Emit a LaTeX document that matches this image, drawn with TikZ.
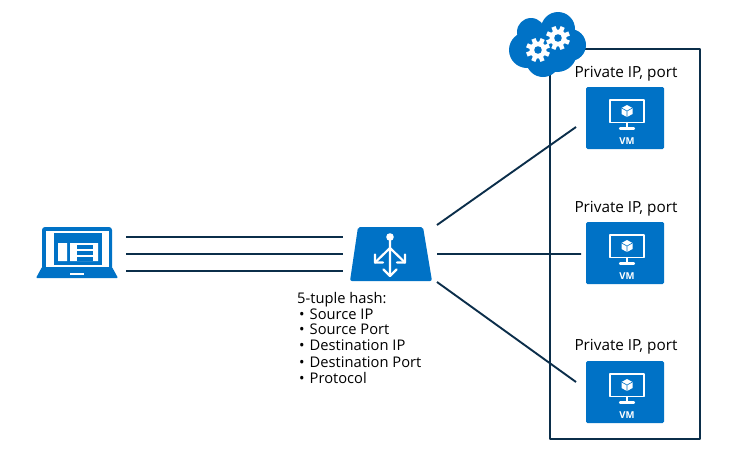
\documentclass[tikz,border=0pt]{standalone}
\usepackage{fontspec}
\setmainfont{Open Sans}
\definecolor{azure}{HTML}{0072C6}
\definecolor{navy}{HTML}{0B2E4A}
\begin{document}
\begin{tikzpicture}[x=1pt,y=-1pt,line join=round,line cap=round,font=\fontsize{15.3}{16}\selectfont,
	link/.style={draw=navy,line width=1.9pt,line cap=butt},
	vmbox/.style={fill=azure,rounded corners=1.5pt,minimum width=78pt,minimum height=62pt,inner sep=0pt},
	white line/.style={draw=white,line width=1.9pt},
	gear/.pic={\fill[white](0,0)circle(8.5);
		\foreach \a in {0,45,...,315}\fill[white,rotate=\a+22](-2.2,-12)rectangle(2.2,-6);
		\fill[azure](0,0)circle(3.8);},
	vmicon/.pic={\draw[white line](-15,-18)rectangle(19,4.5);
		\draw[white line,line width=2.2pt](2,5)--(2,10)(-5,10.5)--(9,10.5);
		\fill[white](2,-13)--(7.5,-10)--(7.5,-4)--(2,-1)--(-3.5,-4)--(-3.5,-10)--cycle;
		\draw[azure,line width=.6pt](-3.5,-10)--(2,-7)--(7.5,-10)(2,-7)--(2,-1);
		\node[white,font=\bfseries\fontsize{9.5}{10}\selectfont,inner sep=0pt](-lab)at(2,23.5){VM};}]
	\useasboundingbox(0,0)rectangle(734,456);
	\fill[white](0,0)rectangle(734,456);
	\draw[navy,line width=2.2pt](550,49)rectangle(700,439);
	\fill[azure](527,50)circle(18)(531,32)circle(14)(558,29)circle(17)(570,45)circle(16)(543,60)circle(17)(557,52)circle(20)(540,45)circle(20);
	\path(538,50)pic(gearl){gear}(558,38)pic(gearr){gear};
	\foreach \i\y\ly in {a/118/74,b/253/209,c/392/347}{
		\node[vmbox](vm\i)at(625,\y){};
		\path(vm\i)pic(ic\i){vmicon};
		\node[inner sep=0pt](lab\i)at(626,\ly){Private IP, port};}
	\fill[azure,rounded corners=2pt](358,227)--(423,227)--(432,281)--(350,281)--cycle;
	\draw[white line,line width=2.2pt](390,238)--(390,275)(390,248)--(375,262.5)(390,248)--(405,262.5);
	\draw[white line,line width=2.2pt](375,254.5)--(375,262.5)--(383,262.5)(405,254.5)--(405,262.5)--(397,262.5)(383.5,269.5)--(390,276)--(396.5,269.5);
	\fill[white](390,237)circle(3.8);
	\fill[azure,rounded corners=3pt](42,227)rectangle(112,270);
	\fill[white](45.5,230.5)rectangle(108.5,267);
	\fill[azure](54,233)rectangle(102,265);
	\fill[azure,rounded corners=1pt](42,267)--(112,267)--(118,278)--(36,278)--cycle;
	\fill[white](70,273)rectangle(84,275);
	\fill[white](58,243)rectangle(67,261)(70,243)rectangle(98,261);
	\foreach \y in {245,251,257}\fill[azure](77,\y)rectangle(93,\y+3.5);
	\foreach \i\x\y in {pa/126/237,pb/126/254,pc/126/271,la/343/237,lb/343/254,lc/343/271,ra/437/225,rb/437/254,rc/437/282,va/576/127,vb/581/254,vc/576/382}
	\path(\x,\y)coordinate(\i);
	\draw[link](pa)--(la)(pb)--(lb)(pc)--(lc);
	\draw[link](ra)--(va)(rb)--(vb)(rc)--(vc);
	\node[anchor=north west,inner sep=0pt,align=left,font=\fontsize{14.7}{16}\selectfont](hash)at(297,292){5-tuple hash:\\[-.3pt]\hspace*{2pt}•\hspace{5pt}Source IP\\[-.3pt]\hspace*{2pt}•\hspace{5pt}Source Port\\[-.3pt]\hspace*{2pt}•\hspace{5pt}Destination IP\\[1pt]\hspace*{2pt}•\hspace{5pt}Destination Port\\[-.3pt]\hspace*{2pt}•\hspace{5pt}Protocol};
\end{tikzpicture}
\end{document}
